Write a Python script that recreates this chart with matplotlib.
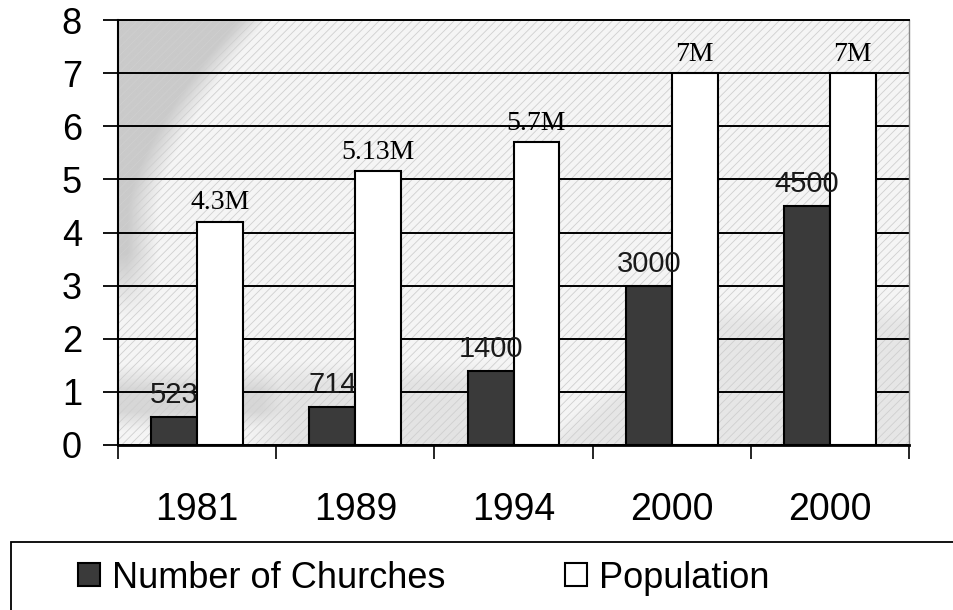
import matplotlib
matplotlib.use("Agg")
import matplotlib.pyplot as plt
from matplotlib.patches import Rectangle
import numpy as np

plt.rcParams["font.family"] = "Liberation Sans"
plt.rcParams["hatch.linewidth"] = 0.6

years = ["1981", "1989", "1994", "2000", "2000"]
churches = [523, 714, 1400, 3000, 4500]
population_m = [4.2, 5.15, 5.7, 7.0, 7.0]
population_labels = ["4.3M", "5.13M", "5.7M", "7M", "7M"]

x = np.arange(len(years))
bar_w = 0.29

fig = plt.figure(figsize=(9.54, 6.1), dpi=100)
ax = fig.add_axes([118 / 954, 1 - 445 / 610, 791 / 954, 425 / 610])

# textured grey backdrop of the plot area
u, v = np.meshgrid(np.linspace(0, 1, 400), np.linspace(0, 1, 400))
edge = 0.03 + 0.14 * np.clip((v - 0.55) / 0.45, 0, 1) ** 1.5
wedge = np.clip((edge - u) / 0.04 + 0.5, 0, 1) * np.clip((v - 0.3) / 0.15, 0, 1)
left_fade = np.clip((0.24 - u) / 0.06, 0, 1)
band_left = left_fade * np.clip(np.minimum((v - 0.03) / 0.05, (0.19 - v) / 0.06), 0, 1)
mid_fade = np.clip(np.minimum((u - 0.16) / 0.06, (0.5 - u) / 0.06), 0, 1)
band_mid = 0.6 * mid_fade * np.clip((0.2 - v) / 0.06, 0, 1)
band_right = 0.5 * np.clip((np.minimum(0.34, (u - 0.52) * 1.4) - v) / 0.06, 0, 1)
band = np.maximum.reduce([band_left, band_mid, band_right])
shade = 0.96 - 0.17 * wedge - 0.12 * band
ax.imshow(shade, origin="lower", extent=(-0.5, 4.5, 0, 8), cmap="gray",
          vmin=0, vmax=1, aspect="auto", interpolation="bilinear", zorder=0)
ax.add_patch(Rectangle((0, 0), 1, 1, transform=ax.transAxes, facecolor="none",
                       edgecolor="#cfcfcf", hatch="////", lw=0, zorder=0.2))

ax.bar(x - bar_w / 2, [c / 1000 for c in churches], bar_w, color="#3a3a3a",
       edgecolor="black", linewidth=1.5, zorder=2, label="Number of Churches")
ax.bar(x + bar_w / 2, population_m, bar_w, color="white",
       edgecolor="black", linewidth=1.5, zorder=2, label="Population")

for xi, c in zip(x, churches):
    ax.annotate(str(c), (xi - bar_w / 2, c / 1000), xytext=(0, 10),
                textcoords="offset points", ha="center", va="baseline",
                fontsize=21, color="#1a1a1a", zorder=3)
for xi, p, lab in zip(x, population_m, population_labels):
    ax.annotate(lab, (xi + bar_w / 2, p), xytext=(0, 9),
                textcoords="offset points", ha="center", va="baseline",
                fontsize=20, family="Liberation Serif", color="black", zorder=3)

ax.set_xlim(-0.5, 4.5)
ax.set_ylim(0, 8)
ax.set_yticks(range(9))
ax.yaxis.grid(True, color="black", linewidth=1.4, zorder=1)
ax.set_axisbelow(True)
ax.tick_params(axis="y", direction="out", length=11, width=1.3, pad=15,
               labelsize=26)
ax.set_xticks(x)
ax.set_xticklabels(years)
ax.set_xticks(np.arange(-0.5, 5, 1), minor=True)
ax.tick_params(axis="x", which="major", length=0, pad=34, labelsize=27)
ax.tick_params(axis="x", which="minor", direction="out", length=10, width=1.2)

for side in ["left", "bottom", "top"]:
    ax.spines[side].set_color("black")
ax.spines["left"].set_linewidth(1.5)
ax.spines["bottom"].set_linewidth(2)
ax.spines["top"].set_linewidth(1.4)
ax.spines["right"].set_color("#888888")
ax.spines["right"].set_linewidth(1)

# legend box running off the bottom-right of the image
fig.add_artist(Rectangle((11 / 954, -0.2), 1.2, 0.2 + 1 - 542 / 610,
                         transform=fig.transFigure, fill=False,
                         edgecolor="black", linewidth=1.3))
fig.legend(loc="center left", bbox_to_anchor=(78 / 954, 1 - 578 / 610),
           ncol=2, frameon=False, fontsize=26, handlelength=0.6,
           handleheight=0.6, handletextpad=0.35, columnspacing=3.3,
           borderpad=0, borderaxespad=0)

fig.savefig("out.png", dpi=100)
